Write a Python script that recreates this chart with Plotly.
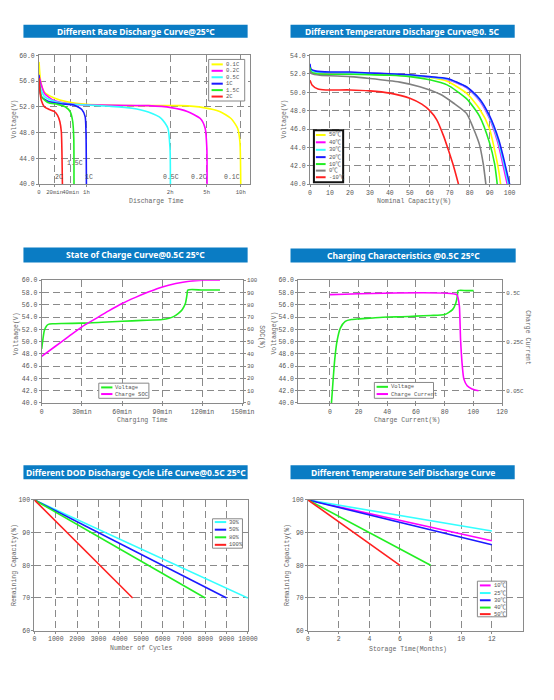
import plotly.graph_objects as go

W, H = 554, 700
FONT = "Liberation Mono, Noto Sans CJK SC, monospace"
TFONT = "Noto Sans, Open Sans, sans-serif"
BAR = "#0a7cc4"
GRID = "#8a8a8a"
TXT = "#555555"

# ---------------- data ----------------
# Panel 1 : different rate discharge (x in axis units of the time scale, y in V)
p1_tick_pos = [0, 7.4, 15.0, 22.5, 62.3, 79.6, 95.8]
p1_tick_text = ["0", "20min", "40min", "1h", "2h", "5h", "10h"]
p1_names = ["0.1C", "0.2C", "0.5C", "1C", "1.5C", "2C"]
p1_colors = ["#ffff00", "#ff00ff", "#33ffff", "#1a1aff", "#22ee22", "#ff2020"]
d01_x = [0, 0.8, 2.6, 7.2, 13.4, 22.6, 44.2, 67.3, 78.1, 85.8, 91.2, 94.3, 95.4, 95.8]
d01_y = [59.0, 55.9, 54.3, 53.4, 52.8, 52.4, 52.2, 52.2, 51.9, 51.3, 50.2, 48.7, 46.6, 40]
d02_x = [0, 2.6, 7.2, 16.5, 28.8, 51.9, 62.7, 70.4, 76.6, 78.9, 79.7, 79.8]
d02_y = [56.8, 54.1, 53.0, 52.4, 52.3, 52.2, 51.9, 51.3, 50.2, 48.7, 45.6, 40]
d05_x = [0, 2.6, 7.2, 13.4, 22.6, 33.4, 44.2, 51.9, 58.1, 61.2, 62.2, 62.4]
d05_y = [55.5, 53.6, 52.9, 52.5, 52.3, 52.1, 51.8, 51.2, 50.2, 48.7, 45.6, 40]
d10_x = [0, 1.1, 4.2, 10.3, 16.5, 20.3, 21.9, 22.3, 22.5]
d10_y = [57.0, 53.6, 52.9, 52.5, 52.3, 51.6, 50.5, 48.1, 40]
d15_x = [0, 1.1, 4.2, 8.8, 12.6, 14.9, 16.0, 16.5, 16.6]
d15_y = [56.3, 53.6, 52.7, 52.4, 52.0, 51.2, 49.7, 47.1, 40]
d20_x = [0, 0.3, 1.1, 2.6, 4.9, 7.2, 8.8, 9.9, 10.6, 10.9, 11.1]
d20_y = [56.5, 54.8, 53.0, 52.0, 51.6, 51.3, 50.7, 49.7, 48.1, 44.5, 40]
p1_label_text = ["2C", "1.5C", "1C", "0.5C", "0.2C", "0.1C"]
p1_label_x = [9.3, 17.1, 23.9, 62.6, 75.9, 91.5]
p1_label_y = [41.0, 43.2, 41.0, 41.0, 41.0, 41.0]

# Panel 2 : different temperature discharge (x = nominal capacity %, y = V)
p2_names = ["50℃", "40℃", "30℃", "20℃", "10℃", "0℃", "-10℃"]
p2_colors = ["#ffff00", "#ff00ff", "#33ffff", "#1a1aff", "#22ee22", "#808080", "#ff2020"]
t50_x = [0, 0.5, 3, 10, 20, 30, 40, 50, 60, 68.7, 78.4, 84.9, 89.8, 93, 94.6, 95.5]
t50_y = [52.9, 52.4, 52.1, 52.0, 52.0, 52.0, 51.95, 51.8, 51.6, 51.2, 49.9, 48.2, 46.1, 43.2, 41.4, 40]
t40_x = [0, 0.5, 3, 10, 20, 30, 40, 50, 60, 68.7, 78.4, 84.9, 89.8, 94.0, 96.2, 98.8]
t40_y = [52.9, 52.4, 52.2, 52.1, 52.1, 52.05, 52.0, 51.85, 51.65, 51.4, 50.5, 49.1, 47.2, 44.6, 42.6, 40]
t30_x = [0, 0.5, 3, 10, 20, 30, 40, 50, 60, 68.7, 78.4, 84.9, 89.8, 94.3, 96.6, 99.4]
t30_y = [52.8, 52.4, 52.2, 52.15, 52.1, 52.05, 52.0, 51.85, 51.65, 51.45, 50.55, 49.2, 47.35, 44.7, 42.7, 40]
t20_x = [0, 0.5, 3, 10, 20, 30, 40, 50, 60, 68.7, 78.4, 84.9, 89.8, 94.6, 97, 100]
t20_y = [53.1, 52.5, 52.3, 52.2, 52.2, 52.1, 52.0, 51.9, 51.7, 51.5, 50.6, 49.3, 47.5, 44.8, 42.8, 40]
t10_x = [0, 0.5, 3, 10, 20, 30, 40, 50, 60, 68.7, 78.4, 84.9, 89.8, 92.5, 93.8]
t10_y = [52.7, 52.2, 52.0, 51.95, 51.95, 51.9, 51.85, 51.7, 51.35, 50.8, 49.3, 47.4, 44.6, 42.2, 40]
t00_x = [0, 1, 5, 20, 30, 45, 55, 65, 72, 78.4, 82, 84.9, 86.8, 88.1]
t00_y = [52.3, 52.0, 51.85, 51.7, 51.5, 51.1, 50.6, 49.8, 48.8, 47.7, 46.0, 44.3, 42.2, 40]
tm10_x = [0, 1, 4, 8, 20, 30, 40, 50, 56, 60, 63.5, 67, 69.5, 72, 74.4]
tm10_y = [51.3, 50.8, 50.35, 50.25, 50.25, 50.15, 49.9, 49.35, 48.7, 48.0, 47.0, 45.2, 43.6, 41.9, 40]

# Panel 3 : state of charge (x = minutes)
p3_tick_pos = [0, 30, 60, 90, 120, 150]
p3_tick_text = ["0", "30min", "60min", "90min", "120min", "150min"]
soc_v_t = [0, 1, 2, 3.5, 5, 8, 15, 30, 45, 60, 75, 90, 95, 98.7, 102, 104.8, 107.2, 108.4, 109, 120, 133]
soc_v = [48.8, 50.5, 51.8, 52.5, 52.8, 52.9, 52.95, 53.0, 53.15, 53.3, 53.45, 53.6, 53.8, 54.1, 54.6, 55.2, 56.2, 57.6, 58.4, 58.4, 58.4]
soc_t = [0, 10, 20, 30, 40, 50, 60, 70, 80, 90, 100, 110, 120, 133]
soc_pct = [38, 46, 54, 62, 68.5, 75, 81, 86, 90.5, 94.5, 97.3, 99.2, 100, 100]

# Panel 4 : charging characteristics (x = charge %, y = V / current C)
p4_tick_pos = [0, 20, 40, 60, 80, 100, 120]
chg_v_x = [1.1, 2.3, 3.4, 5, 7.3, 10.7, 15, 20.4, 30, 40, 50, 60, 70, 80, 85.5, 87.7, 88.9, 89.3, 95, 100.2]
chg_v = [40, 43.9, 47.1, 50.1, 52.2, 53.3, 53.6, 53.7, 53.85, 54.0, 54.05, 54.15, 54.25, 54.4, 55.2, 56.2, 57.5, 58.3, 58.3, 58.3]
chg_i_x = [0, 88.4, 89.5, 90.3, 91.1, 92.3, 93.4, 95.7, 99.1, 103.6]
chg_i = [0.49, 0.49, 0.47, 0.435, 0.283, 0.163, 0.103, 0.073, 0.058, 0.05]
p4_cur_tick_val = [0.05, 0.275, 0.5]
p4_cur_tick_text = ["0.05C", "0.25C", "0.5C"]

# Panel 5 : DOD cycle life
p5_names = ["30%", "50%", "80%", "100%"]
p5_colors = ["#33ffff", "#1a1aff", "#22ee22", "#ff2020"]
dod30_x = [0, 10000]; dod30_y = [100, 70]
dod50_x = [0, 9000]; dod50_y = [100, 70]
dod80_x = [0, 8000]; dod80_y = [100, 70]
dod100_x = [0, 4600]; dod100_y = [100, 70]

# Panel 6 : self discharge
p6_tick_pos = [0, 2, 4, 6, 8, 10, 12]
p6_names = ["10℃", "25℃", "30℃", "40℃", "50℃"]
p6_colors = ["#ff00ff", "#33ffff", "#1a1aff", "#22ee22", "#ff2020"]
sd10_x = [0, 12]; sd10_y = [100, 87.5]
sd25_x = [0, 12]; sd25_y = [100, 90.5]
sd30_x = [0, 12]; sd30_y = [100, 86.3]
sd40_x = [0, 8]; sd40_y = [100, 80]
sd50_x = [0, 6]; sd50_y = [100, 80]

# ---------------- helpers ----------------
def px(x):
    return x / W

def py(y):
    return 1 - y / H

fig = go.Figure()
shapes = []
annots = []

def line(x, y, color, xa, ya, spline=True, width=1.6):
    fig.add_trace(go.Scatter(
        x=x, y=y, mode="lines", xaxis=xa, yaxis=ya, showlegend=False,
        line=dict(color=color, width=width, shape="spline" if spline else "linear",
                  smoothing=0.6 if spline else None),
        hoverinfo="skip"))

def axis(domain, anchor, fsize=6.5, **kw):
    d = dict(domain=domain, anchor=anchor, showline=True, linecolor=GRID, linewidth=1,
             mirror=True, showgrid=True, gridcolor=GRID, gridwidth=1, griddash="7px,4px",
             zeroline=False, ticks="outside", ticklen=2, tickcolor=GRID,
             tickfont=dict(family=FONT, size=fsize, color=TXT), fixedrange=True, tickangle=0)
    d.update(kw)
    return d

def title_bar(x0, x1, y0, y1, text):
    shapes.append(dict(type="rect", xref="paper", yref="paper", x0=px(x0), x1=px(x1),
                       y0=py(y1), y1=py(y0), fillcolor=BAR, line=dict(width=0), layer="below"))
    annots.append(dict(xref="paper", yref="paper", x=px((x0 + x1) / 2), y=py((y0 + y1) / 2),
                       text="<b>%s</b>" % text, showarrow=False, xanchor="center", yanchor="middle",
                       font=dict(family=TFONT, size=8.5, color="white")))

def label(x, y, text, angle=0, size=6.5):
    annots.append(dict(xref="paper", yref="paper", x=px(x), y=py(y), text=text, showarrow=False,
                       xanchor="center", yanchor="middle", textangle=angle,
                       font=dict(family=FONT, size=size, color="#666666")))

def legend_box(x0, x1, y0, y1, names, colors, rows, lx0, lx1, tx, bcolor="#888888", bw=1):
    shapes.append(dict(type="rect", xref="paper", yref="paper", x0=px(x0), x1=px(x1),
                       y0=py(y1), y1=py(y0), fillcolor="white", line=dict(color=bcolor, width=bw)))
    for n, c, r in zip(names, colors, rows):
        shapes.append(dict(type="line", xref="paper", yref="paper", x0=px(lx0), x1=px(lx1),
                           y0=py(r), y1=py(r), line=dict(color=c, width=2)))
        annots.append(dict(xref="paper", yref="paper", x=px(tx), y=py(r), text=n, showarrow=False,
                           xanchor="left", yanchor="middle",
                           font=dict(family=FONT, size=5.5, color="#555555")))

# ---------------- panel 1 ----------------
p1_series = [(d01_x, d01_y), (d02_x, d02_y), (d05_x, d05_y), (d10_x, d10_y), (d15_x, d15_y), (d20_x, d20_y)]
for (x, y), c in zip(p1_series, p1_colors):
    line(x, y, c, "x", "y")
for t, x, y in zip(p1_label_text, p1_label_x, p1_label_y):
    annots.append(dict(xref="x", yref="y", x=x, y=y, text=t, showarrow=False,
                       font=dict(family=FONT, size=6.5, color=TXT)))

# ---------------- panel 2 ----------------
p2_series = [(t50_x, t50_y), (t40_x, t40_y), (t30_x, t30_y), (t20_x, t20_y),
             (t10_x, t10_y), (t00_x, t00_y), (tm10_x, tm10_y)]
for (x, y), c in zip(p2_series, p2_colors):
    line(x, y, c, "x2", "y2")

# ---------------- panel 3 ----------------
line(soc_v_t, soc_v, "#22ee22", "x3", "y3")
line(soc_t, soc_pct, "#ff00ff", "x3", "y7")

# ---------------- panel 4 ----------------
line(chg_v_x, chg_v, "#22ee22", "x4", "y4")
line(chg_i_x, chg_i, "#ff00ff", "x4", "y8")

# ---------------- panel 5 ----------------
for (x, y), c in zip([(dod30_x, dod30_y), (dod50_x, dod50_y), (dod80_x, dod80_y), (dod100_x, dod100_y)], p5_colors):
    line(x, y, c, "x5", "y5", spline=False)

# ---------------- panel 6 ----------------
for (x, y), c in zip([(sd10_x, sd10_y), (sd25_x, sd25_y), (sd30_x, sd30_y), (sd40_x, sd40_y), (sd50_x, sd50_y)], p6_colors):
    line(x, y, c, "x6", "y6", spline=False)

# ---------------- axes ----------------
right_font = dict(family=FONT, size=5.8, color=TXT)
lay = dict(
    xaxis=axis([px(38), px(254)], "y", fsize=5.6, range=[0, 100], tickmode="array",
               tickvals=p1_tick_pos, ticktext=p1_tick_text),
    yaxis=axis([py(183), py(53)], "x", range=[40, 60], dtick=4, tick0=40, tickformat=".1f"),
    xaxis2=axis([px(316), px(531)], "y2", range=[0, 105], dtick=10, tick0=0),
    yaxis2=axis([py(183), py(53)], "x2", range=[40, 54], dtick=2, tick0=40, tickformat=".1f"),
    xaxis3=axis([px(40.7), px(247)], "y3", range=[0, 150], tickmode="array",
                tickvals=p3_tick_pos, ticktext=p3_tick_text),
    yaxis3=axis([py(404), py(280)], "x3", range=[40, 60], dtick=2, tick0=40, tickformat=".1f"),
    yaxis7=dict(overlaying="y3", anchor="x3", side="right", range=[0, 100], dtick=10, tick0=0,
                showgrid=False, zeroline=False, showline=False, ticks="outside", ticklen=2,
                tickcolor=GRID, tickfont=right_font, fixedrange=True),
    xaxis4=axis([px(304), px(513)], "y4", range=[-22, 120], tickmode="array", tickvals=p4_tick_pos),
    yaxis4=axis([py(404), py(280)], "x4", range=[40, 60], dtick=2, tick0=40, tickformat=".1f"),
    yaxis8=dict(overlaying="y4", anchor="x4", side="right",
                range=[0.05 - 2 * 0.028125, 0.5 + 2 * 0.028125], tickmode="array",
                tickvals=p4_cur_tick_val, ticktext=p4_cur_tick_text,
                showgrid=False, zeroline=False, showline=False, ticks="outside", ticklen=2,
                tickcolor=GRID, tickfont=right_font, fixedrange=True),
    xaxis5=axis([px(33.3), px(252.3)], "y5", range=[0, 10000], dtick=1000, tick0=0, tickformat="d"),
    yaxis5=axis([py(634), py(502)], "x5", range=[60, 100], dtick=10, tick0=60),
    xaxis6=axis([px(314), px(534)], "y6", range=[0, 14], tickmode="array", tickvals=p6_tick_pos),
    yaxis6=axis([py(634), py(502)], "x6", range=[60, 100], dtick=10, tick0=60),
)

# titles
title_bar(22, 252, 22, 35, "Different Rate Discharge Curve@25°C")
title_bar(296, 526, 22, 35, "Different Temperature Discharge Curve@0. 5C")
title_bar(22, 252, 247, 262, "State of Charge Curve@0.5C 25°C")
title_bar(296, 527, 248, 262, "Charging Characteristics @0.5C 25°C")
title_bar(22, 252, 467, 481, "Different DOD Discharge Cycle Life Curve@0.5C 25°C")
title_bar(296, 526, 467, 481, "Different Temperature Self Discharge Curve")

# axis titles
label(13, 117, "Voltage(V)", -90)
label(158, 200, "Discharge Time")
label(290, 117, "Voltage(V)", -90)
label(423, 201, "Nominal Capacity(%)")
label(15, 334, "Voltaage(V)", -90)
label(144, 422, "Charging Time")
label(266, 337, "SOC(%)", 90)
label(280, 333, "Voltaage(V)", -90)
label(415, 422, "Charge Current(%)")
label(539, 338, "Charge Current", 90)
label(13, 568, "Remaining Capacity(%)", -90)
label(143, 652, "Number of Cycles")
label(293, 568, "Remaining Capacity(%)", -90)
label(417, 653, "Storage Time(Months)")

# legends
legend_box(212, 249, 57, 99, p1_names, p1_colors, [62, 68.5, 75, 81.5, 88, 94.5], 215, 226.5, 227.5)
legend_box(320, 350, 128.5, 181, p2_names, p2_colors, [133.3, 140.7, 148.3, 155.7, 162.7, 169.3, 176],
           322, 332, 333, bcolor="#111111", bw=2)
legend_box(99.3, 150.7, 384, 399.3, ["Voltage", "Charge SOC"], ["#22ee22", "#ff00ff"], [388.3, 395],
           101.7, 113.3, 114.3)
legend_box(382, 442.7, 383.3, 399.3, ["Voltage", "Charge Current"], ["#22ee22", "#ff00ff"], [387.7, 395],
           384.3, 396, 397)
legend_box(216, 246.7, 521, 550.7, p5_names, p5_colors, [524.3, 532, 539.7, 547.3], 218.3, 230, 231)
legend_box(487.7, 517.7, 584, 620, p6_names, p6_colors, [588.3, 596, 603.3, 610.7, 617.3], 490.3, 501.3, 502.3)

fig.update_layout(
    width=W, height=H, autosize=False,
    margin=dict(l=0, r=0, t=0, b=0),
    paper_bgcolor="white", plot_bgcolor="white",
    showlegend=False,
    shapes=shapes, annotations=annots,
    **lay,
)

fig.write_html("out.html")
